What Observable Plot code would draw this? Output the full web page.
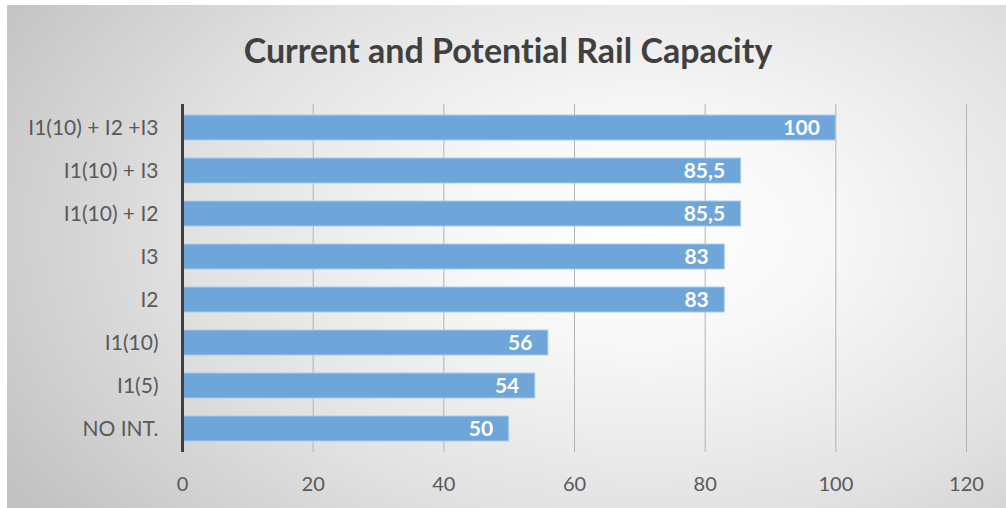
<!DOCTYPE html>
<html>
<head>
<meta charset="utf-8">
<script src="https://cdn.jsdelivr.net/npm/d3@7"></script>
<script src="https://cdn.jsdelivr.net/npm/@observablehq/plot@0.6"></script>
<style>
  html, body { margin: 0; padding: 0; background: #ffffff; }
  body { width: 1006px; height: 508px; overflow: hidden; position: relative; font-family: Lato, "Open Sans", sans-serif; font-variant-ligatures: none; }
  #panel {
    position: absolute; left: 7px; top: 5px; width: 999px; height: 503px;
    background: radial-gradient(ellipse 75% 95% at 64% 45%, #ffffff 0%, #f7f7f7 25%, #e2e2e2 60%, #c2c2c2 100%);
  }
  #title {
    position: absolute; left: 0; top: 25px; width: 1002px; text-align: center;
    font-family: Lato, sans-serif; font-weight: bold; font-size: 34px; color: #404040;
    line-height: 40px; font-variant-ligatures: none;
  }
  #chart { position: absolute; left: 0; top: 85px; }
  #chart svg { background: transparent; font-variant-ligatures: none; }
</style>
</head>
<body>
<div id="panel">
  <div id="title">Current and Potential Rail Capacity</div>
  <div id="chart"></div>
</div>
<script>
// Scenarios, top to bottom, and their rail capacity
const scenarios = ["I1(10) + I2 +I3", "I1(10) + I3", "I1(10) + I2", "I3", "I2", "I1(10)", "I1(5)", "NO INT."];
const capacity = [100, 85.5, 85.5, 83, 83, 56, 54, 50];
const xTicks = [0, 20, 40, 60, 80, 100, 120];

const rows = scenarios.map((name, i) => ({name, value: capacity[i]}));
const fmt = v => String(v).replace(".", ",");

const chart = Plot.plot({
  width: 999,
  height: 418,
  marginLeft: 175,
  marginRight: 40,
  marginTop: 14,
  marginBottom: 56,
  style: {background: "transparent", fontFamily: "Lato, sans-serif"},
  x: {domain: [0, 120], ticks: xTicks, label: null, tickSize: 0, tickPadding: 24},
  y: {domain: scenarios, label: null, paddingInner: 0.42, paddingOuter: 0.21, tickSize: 0, tickPadding: 24},
  marks: [
    Plot.ruleX(xTicks.filter(t => t > 0), {stroke: "#b3b3b3", strokeWidth: 1}),
    Plot.barX(rows, {y: "name", x: "value", fill: "#6fa6da", stroke: "#a9cbeb", strokeWidth: 1}),
    Plot.ruleX([0], {stroke: "#404040", strokeWidth: 3}),
    Plot.text(rows, {y: "name", x: "value", text: d => fmt(d.value), textAnchor: "end", dx: -16,
      fill: "#ffffff", fontWeight: "bold", fontSize: 21, fontFamily: "Lato, sans-serif"}),
    Plot.axisX({ticks: xTicks, tickSize: 0, tickPadding: 24, fontSize: 20, fill: "#595959", label: null}),
    Plot.axisY({tickSize: 0, tickPadding: 24, fontSize: 21, fill: "#595959", label: null})
  ]
});
document.getElementById("chart").appendChild(chart);
</script>
</body>
</html>
